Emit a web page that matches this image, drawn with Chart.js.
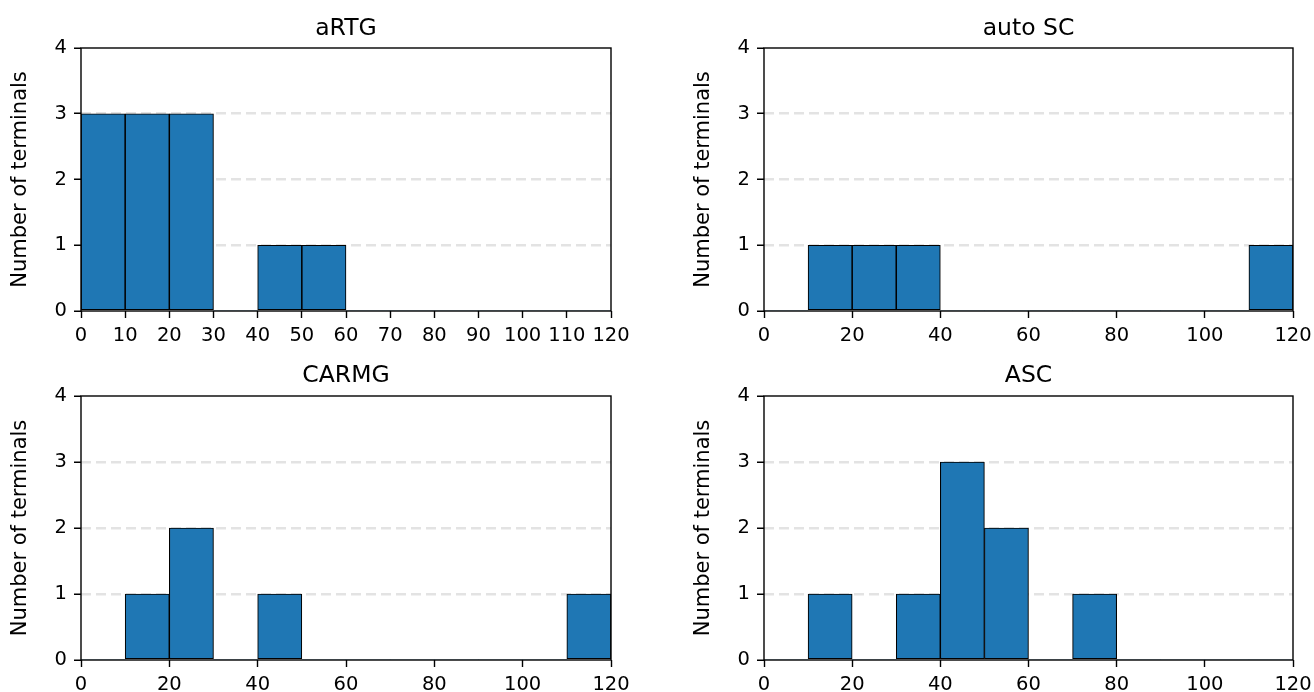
<!DOCTYPE html>
<html>
<head>
<meta charset="utf-8">
<script src="https://cdn.jsdelivr.net/npm/chart.js@4.4.0/dist/chart.umd.min.js"></script>
<style>
  html, body { margin: 0; padding: 0; background: #fff; }
  canvas { position: absolute; }
</style>
</head>
<body>
<canvas id="artg" width="683" height="346" style="left:0;top:0"></canvas>
<canvas id="autoSc" width="631" height="346" style="left:683px;top:0"></canvas>
<canvas id="carmg" width="683" height="346" style="left:0;top:346px"></canvas>
<canvas id="asc" width="631" height="346" style="left:683px;top:346px"></canvas>
<script>
// histogram bins: centres of 10-wide bins from 0 to 120
const binCenters = [5, 15, 25, 35, 45, 55, 65, 75, 85, 95, 105, 115];

const artgCounts   = [3, 3, 3, 0, 1, 1, 0, 0, 0, 0, 0, 0];
const autoScCounts = [0, 1, 1, 1, 0, 0, 0, 0, 0, 0, 0, 1];
const carmgCounts  = [0, 1, 2, 0, 1, 0, 0, 0, 0, 0, 0, 1];
const ascCounts    = [0, 1, 0, 1, 3, 2, 0, 1, 0, 0, 0, 0];

const yLabel = 'Number of terminals';

const FONT = 'DejaVu Sans';

// box around the axes, and title centred over the plot area (matplotlib style)
const framePlugin = {
    id: 'frame',
    afterLayout(chart) {
        if (chart.titleBlock) {
            chart.titleBlock.left = chart.chartArea.left;
            chart.titleBlock.right = chart.chartArea.right;
        }
    },
    afterDraw(chart) {
        const { ctx, chartArea: a } = chart;
        ctx.save();
        ctx.strokeStyle = '#000';
        ctx.lineWidth = 1.4;
        ctx.strokeRect(a.left, a.top, a.right - a.left, a.bottom - a.top);
        ctx.restore();
    }
};

function makeHist(id, title, counts, xStep, opts) {
    const ctx = document.getElementById(id).getContext('2d');
    return new Chart(ctx, {
        type: 'bar',
        data: {
            datasets: [{
                data: binCenters.map((x, i) => ({ x: x, y: counts[i] })),
                backgroundColor: '#1f77b4',
                borderColor: '#000',
                borderWidth: (c) => (c.raw && c.raw.y > 0 ? 1.1 : 0),
                borderSkipped: false,
                barPercentage: 1,
                categoryPercentage: 1
            }]
        },
        options: {
            responsive: false,
            animation: false,
            layout: { padding: { left: 0, right: opts.padRight, top: 0, bottom: 0 } },
            plugins: {
                legend: { display: false },
                tooltip: { enabled: false },
                title: {
                    display: true,
                    text: title,
                    color: '#000',
                    font: { family: FONT, size: 23.5, weight: 'normal' },
                    padding: { top: opts.titleTop, bottom: opts.titleBottom }
                }
            },
            scales: {
                x: {
                    type: 'linear',
                    min: 0,
                    max: 120,
                    offset: false,
                    border: { display: false },
                    grid: {
                        offset: false,
                        drawOnChartArea: false,
                        drawTicks: true,
                        tickLength: 7,
                        tickColor: '#000',
                        tickWidth: 1.4
                    },
                    ticks: {
                        stepSize: xStep,
                        autoSkip: false,
                        maxRotation: 0,
                        minRotation: 0,
                        padding: 6.5,
                        color: '#000',
                        font: { family: FONT, size: 19.5 }
                    },
                    afterFit(scale) {
                        scale.height = opts.axisHeight;
                        scale.paddingLeft = 0;
                        scale.paddingRight = 0;
                    }
                },
                y: {
                    min: 0,
                    max: 4,
                    border: { display: false, dash: [10, 5] },
                    grid: {
                        color: (c) => (c.tick && c.tick.value > 0 && c.tick.value < 4 ? '#e3e3e3' : 'rgba(0,0,0,0)'),
                        lineWidth: 2.6,
                        drawTicks: true,
                        tickLength: 7,
                        tickColor: '#000',
                        tickWidth: 1.4,
                        tickBorderDash: [1, 0]
                    },
                    ticks: {
                        stepSize: 1,
                        padding: 7,
                        color: '#000',
                        font: { family: FONT, size: 19.5 }
                    },
                    title: {
                        display: true,
                        text: yLabel,
                        color: '#000',
                        font: { family: FONT, size: 21 },
                        padding: { top: 8, bottom: 0 }
                    },
                    afterFit(scale) {
                        scale.width = 81;
                        scale.paddingTop = 0;
                        scale.paddingBottom = 0;
                    }
                }
            }
        },
        plugins: [framePlugin]
    });
}

makeHist('artg', 'aRTG', artgCounts, 10,
    { padRight: 72, titleTop: 14.4, titleBottom: 5.4, axisHeight: 35 });
makeHist('autoSc', 'auto SC', autoScCounts, 20,
    { padRight: 21, titleTop: 14.4, titleBottom: 5.4, axisHeight: 35 });
makeHist('carmg', 'CARMG', carmgCounts, 20,
    { padRight: 72, titleTop: 15.9, titleBottom: 5.9, axisHeight: 32 });
makeHist('asc', 'ASC', ascCounts, 20,
    { padRight: 21, titleTop: 15.9, titleBottom: 5.9, axisHeight: 32 });
</script>
</body>
</html>
